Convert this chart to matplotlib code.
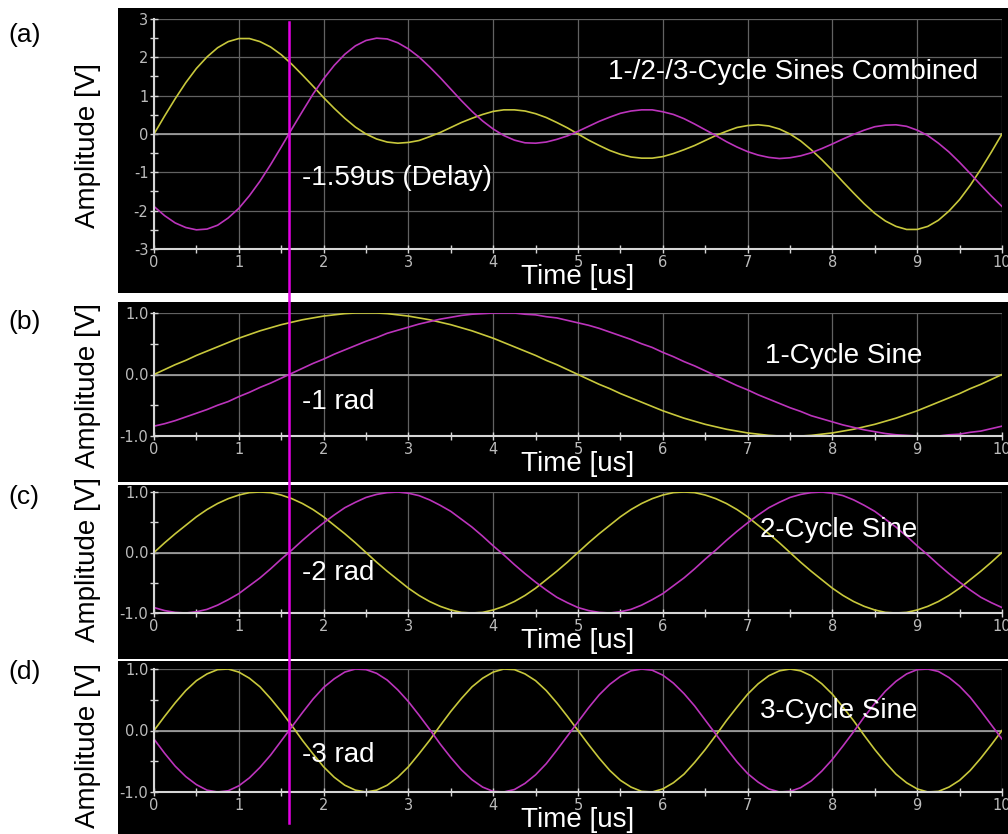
import matplotlib
matplotlib.use("Agg")
import matplotlib.pyplot as plt
import numpy as np
from matplotlib.patches import Rectangle
from matplotlib.lines import Line2D
from matplotlib.ticker import MultipleLocator, FormatStrFormatter
from matplotlib.transforms import blended_transform_factory

plt.rcParams["axes.unicode_minus"] = False

# sample times (us), 0.125 us apart
t_us = np.linspace(0, 10, 81)

# 1-cycle sine and its -1 rad shifted copy
sine1_yellow = [0.00, 0.08, 0.16, 0.23, 0.31, 0.38, 0.45, 0.52, 0.59, 0.65,
                0.71, 0.76, 0.81, 0.85, 0.89, 0.92, 0.95, 0.97, 0.99, 1.00,
                1.00, 1.00, 0.99, 0.97, 0.95, 0.92, 0.89, 0.85, 0.81, 0.76,
                0.71, 0.65, 0.59, 0.52, 0.45, 0.38, 0.31, 0.23, 0.16, 0.08,
                0.00, -0.08, -0.16, -0.23, -0.31, -0.38, -0.45, -0.52, -0.59, -0.65,
                -0.71, -0.76, -0.81, -0.85, -0.89, -0.92, -0.95, -0.97, -0.99, -1.00,
                -1.00, -1.00, -0.99, -0.97, -0.95, -0.92, -0.89, -0.85, -0.81, -0.76,
                -0.71, -0.65, -0.59, -0.52, -0.45, -0.38, -0.31, -0.23, -0.16, -0.08,
                0.00]
sine1_magenta = [-0.84, -0.80, -0.75, -0.69, -0.63, -0.57, -0.50, -0.44, -0.36, -0.29,
                 -0.21, -0.14, -0.06, 0.02, 0.10, 0.18, 0.25, 0.33, 0.40, 0.47,
                 0.54, 0.60, 0.67, 0.72, 0.77, 0.82, 0.86, 0.90, 0.93, 0.96,
                 0.98, 0.99, 1.00, 1.00, 1.00, 0.98, 0.97, 0.94, 0.92, 0.88,
                 0.84, 0.80, 0.75, 0.69, 0.63, 0.57, 0.50, 0.44, 0.36, 0.29,
                 0.21, 0.14, 0.06, -0.02, -0.10, -0.18, -0.25, -0.33, -0.40, -0.47,
                 -0.54, -0.60, -0.67, -0.72, -0.77, -0.82, -0.86, -0.90, -0.93, -0.96,
                 -0.98, -0.99, -1.00, -1.00, -1.00, -0.98, -0.97, -0.94, -0.92, -0.88,
                 -0.84]

# 2-cycle sine and its -2 rad shifted copy
sine2_yellow = [0.00, 0.16, 0.31, 0.45, 0.59, 0.71, 0.81, 0.89, 0.95, 0.99,
                1.00, 0.99, 0.95, 0.89, 0.81, 0.71, 0.59, 0.45, 0.31, 0.16,
                0.00, -0.16, -0.31, -0.45, -0.59, -0.71, -0.81, -0.89, -0.95, -0.99,
                -1.00, -0.99, -0.95, -0.89, -0.81, -0.71, -0.59, -0.45, -0.31, -0.16,
                0.00, 0.16, 0.31, 0.45, 0.59, 0.71, 0.81, 0.89, 0.95, 0.99,
                1.00, 0.99, 0.95, 0.89, 0.81, 0.71, 0.59, 0.45, 0.31, 0.16,
                0.00, -0.16, -0.31, -0.45, -0.59, -0.71, -0.81, -0.89, -0.95, -0.99,
                -1.00, -0.99, -0.95, -0.89, -0.81, -0.71, -0.59, -0.45, -0.31, -0.16,
                0.00]
sine2_magenta = [-0.91, -0.96, -0.99, -1.00, -0.98, -0.94, -0.87, -0.78, -0.68, -0.55,
                 -0.42, -0.27, -0.11, 0.04, 0.20, 0.35, 0.49, 0.62, 0.74, 0.83,
                 0.91, 0.96, 0.99, 1.00, 0.98, 0.94, 0.87, 0.78, 0.68, 0.55,
                 0.42, 0.27, 0.11, -0.04, -0.20, -0.35, -0.49, -0.62, -0.74, -0.83,
                 -0.91, -0.96, -0.99, -1.00, -0.98, -0.94, -0.87, -0.78, -0.68, -0.55,
                 -0.42, -0.27, -0.11, 0.04, 0.20, 0.35, 0.49, 0.62, 0.74, 0.83,
                 0.91, 0.96, 0.99, 1.00, 0.98, 0.94, 0.87, 0.78, 0.68, 0.55,
                 0.42, 0.27, 0.11, -0.04, -0.20, -0.35, -0.49, -0.62, -0.74, -0.83,
                 -0.91]

# 3-cycle sine and its -3 rad shifted copy
sine3_yellow = [0.00, 0.23, 0.45, 0.65, 0.81, 0.92, 0.99, 1.00, 0.95, 0.85,
                0.71, 0.52, 0.31, 0.08, -0.16, -0.38, -0.59, -0.76, -0.89, -0.97,
                -1.00, -0.97, -0.89, -0.76, -0.59, -0.38, -0.16, 0.08, 0.31, 0.52,
                0.71, 0.85, 0.95, 1.00, 0.99, 0.92, 0.81, 0.65, 0.45, 0.23,
                0.00, -0.23, -0.45, -0.65, -0.81, -0.92, -0.99, -1.00, -0.95, -0.85,
                -0.71, -0.52, -0.31, -0.08, 0.16, 0.38, 0.59, 0.76, 0.89, 0.97,
                1.00, 0.97, 0.89, 0.76, 0.59, 0.38, 0.16, -0.08, -0.31, -0.52,
                -0.71, -0.85, -0.95, -1.00, -0.99, -0.92, -0.81, -0.65, -0.45, -0.23,
                0.00]
sine3_magenta = [-0.14, -0.37, -0.58, -0.75, -0.88, -0.97, -1.00, -0.98, -0.90, -0.77,
                 -0.60, -0.40, -0.17, 0.06, 0.29, 0.51, 0.70, 0.84, 0.95, 1.00,
                 0.99, 0.93, 0.82, 0.66, 0.47, 0.25, 0.02, -0.22, -0.44, -0.64,
                 -0.80, -0.92, -0.99, -1.00, -0.96, -0.86, -0.72, -0.54, -0.32, -0.09,
                 0.14, 0.37, 0.58, 0.75, 0.88, 0.97, 1.00, 0.98, 0.90, 0.77,
                 0.60, 0.40, 0.17, -0.06, -0.29, -0.51, -0.70, -0.84, -0.95, -1.00,
                 -0.99, -0.93, -0.82, -0.66, -0.47, -0.25, -0.02, 0.22, 0.44, 0.64,
                 0.80, 0.92, 0.99, 1.00, 0.96, 0.86, 0.72, 0.54, 0.32, 0.09,
                 -0.14]

# the three sines added together
combined_yellow = [0.00, 0.47, 0.92, 1.34, 1.71, 2.01, 2.25, 2.41, 2.49, 2.49,
                   2.41, 2.27, 2.07, 1.82, 1.54, 1.25, 0.95, 0.67, 0.41, 0.18,
                   0.00, -0.13, -0.21, -0.24, -0.22, -0.17, -0.07, 0.04, 0.17, 0.30,
                   0.41, 0.51, 0.59, 0.63, 0.63, 0.60, 0.53, 0.43, 0.30, 0.16,
                   0.00, -0.16, -0.30, -0.43, -0.53, -0.60, -0.63, -0.63, -0.59, -0.51,
                   -0.41, -0.30, -0.17, -0.04, 0.07, 0.17, 0.22, 0.24, 0.21, 0.13,
                   0.00, -0.18, -0.41, -0.67, -0.95, -1.25, -1.54, -1.82, -2.07, -2.27,
                   -2.41, -2.49, -2.49, -2.41, -2.25, -2.01, -1.71, -1.34, -0.92, -0.47,
                   0.00]
combined_magenta = [-1.89, -2.13, -2.32, -2.44, -2.50, -2.48, -2.38, -2.19, -1.94, -1.61,
                    -1.23, -0.80, -0.34, 0.13, 0.59, 1.04, 1.44, 1.79, 2.08, 2.30,
                    2.44, 2.50, 2.48, 2.38, 2.22, 2.01, 1.75, 1.47, 1.17, 0.87,
                    0.59, 0.34, 0.13, -0.04, -0.16, -0.23, -0.24, -0.21, -0.14, -0.05,
                    0.07, 0.20, 0.33, 0.44, 0.54, 0.60, 0.63, 0.63, 0.58, 0.51,
                    0.40, 0.26, 0.11, -0.04, -0.20, -0.34, -0.46, -0.55, -0.61, -0.64,
                    -0.62, -0.57, -0.49, -0.38, -0.26, -0.13, -0.01, 0.10, 0.19, 0.23,
                    0.24, 0.20, 0.10, -0.04, -0.24, -0.47, -0.74, -1.03, -1.33, -1.62,
                    -1.89]

delay_us = 1.59

panel_tags = ["(a)", "(b)", "(c)", "(d)"]
panel_titles = ["1-/2-/3-Cycle Sines Combined", "1-Cycle Sine", "2-Cycle Sine", "3-Cycle Sine"]
shift_notes = ["-1.59us (Delay)", "-1 rad", "-2 rad", "-3 rad"]

YELLOW = "#c8c83c"
MAGENTA = "#bc34bc"
VLINE = "#e400e4"
GRID = "#626262"
AXIS = "#d6d6d6"
TICKTXT = "#bcbcbc"
BIG = "Liberation Sans"

W, H = 1008, 834


def fx(px):
    return px / W


def fy(py):
    return 1 - py / H


# pixel layout: black panel top/bottom, plot area top/bottom
layout = [
    dict(bg=(8, 293), ax=(19, 249), tag_y=35, amp_y=146, title=(5.35, 1.62), note=(1.74, -1.15)),
    dict(bg=(302, 482), ax=(313, 436), tag_y=322, amp_y=385, title=(7.2, 0.30), note=(1.74, -0.45)),
    dict(bg=(485, 659), ax=(492, 613), tag_y=497, amp_y=560, title=(7.15, 0.37), note=(1.74, -0.34)),
    dict(bg=(661, 834), ax=(669, 792), tag_y=672, amp_y=745, title=(7.15, 0.32), note=(1.74, -0.40)),
]

series = [
    (combined_yellow, combined_magenta),
    (sine1_yellow, sine1_magenta),
    (sine2_yellow, sine2_magenta),
    (sine3_yellow, sine3_magenta),
]
for yel, mag in series:
    assert len(yel) == len(t_us) and len(mag) == len(t_us)

fig = plt.figure(figsize=(W / 100, H / 100), dpi=100, facecolor="white")

axes = []
for i, lay in enumerate(layout):
    top, bottom = lay["bg"]
    fig.add_artist(Rectangle((fx(118), fy(bottom)), fx(1008) - fx(118), (bottom - top) / H,
                             transform=fig.transFigure, facecolor="black",
                             edgecolor="none", zorder=-1))

    atop, abot = lay["ax"]
    ax = fig.add_axes([fx(154), fy(abot), fx(1002) - fx(154), (abot - atop) / H])
    ax.set_facecolor("black")
    axes.append(ax)

    yel, mag = series[i]
    ax.plot(t_us, yel, color=YELLOW, lw=1.2, zorder=3)
    ax.plot(t_us, mag, color=MAGENTA, lw=1.2, zorder=3)

    ax.set_xlim(0, 10)
    ax.set_xticks(range(11))
    ax.xaxis.set_minor_locator(MultipleLocator(0.5))
    if i == 0:
        ax.set_ylim(-3, 3)
        ax.set_yticks(range(-3, 4))
    else:
        ax.set_ylim(-1, 1)
        ax.set_yticks([-1, 0, 1])
        ax.yaxis.set_major_formatter(FormatStrFormatter("%.1f"))
    ax.yaxis.set_minor_locator(MultipleLocator(0.5))

    for side in ("top", "right"):
        ax.spines[side].set_visible(False)
    for side in ("left", "bottom"):
        ax.spines[side].set_color(AXIS)
        ax.spines[side].set_linewidth(1.5)
        ax.spines[side].set_zorder(4)

    ax.tick_params(which="both", direction="inout", length=6, width=1, color=AXIS,
                   labelcolor=TICKTXT, labelsize=10.5, pad=1)
    ax.grid(which="major", color=GRID, lw=0.9)
    ax.axhline(0, color="#a4a4a4", lw=1.2, zorder=2)

    ax.set_xlabel("Time [us]", color="white", fontsize=20, family=BIG)
    ax.xaxis.set_label_coords(0.5, -15 / (abot - atop))
    ax.xaxis.label.set_va("top")

    ax.text(*lay["title"], panel_titles[i], color="white", fontsize=20, family=BIG,
            ha="left", va="center", zorder=5)
    ax.text(*lay["note"], shift_notes[i], color="white", fontsize=20, family=BIG,
            ha="left", va="center", zorder=5)

    fig.text(fx(8), fy(lay["tag_y"]), panel_tags[i], fontsize=19, family=BIG,
             ha="left", va="center")
    fig.text(fx(88), fy(lay["amp_y"]), "Amplitude [V]", fontsize=20, family=BIG,
             rotation=90, ha="center", va="center")

# delay marker running through all four panels
trans = blended_transform_factory(axes[0].transData, fig.transFigure)
fig.add_artist(Line2D([delay_us, delay_us], [fy(22), fy(823)], transform=trans,
                      color=VLINE, lw=1.8, zorder=6))

fig.savefig("out.png", dpi=100, facecolor="white")
